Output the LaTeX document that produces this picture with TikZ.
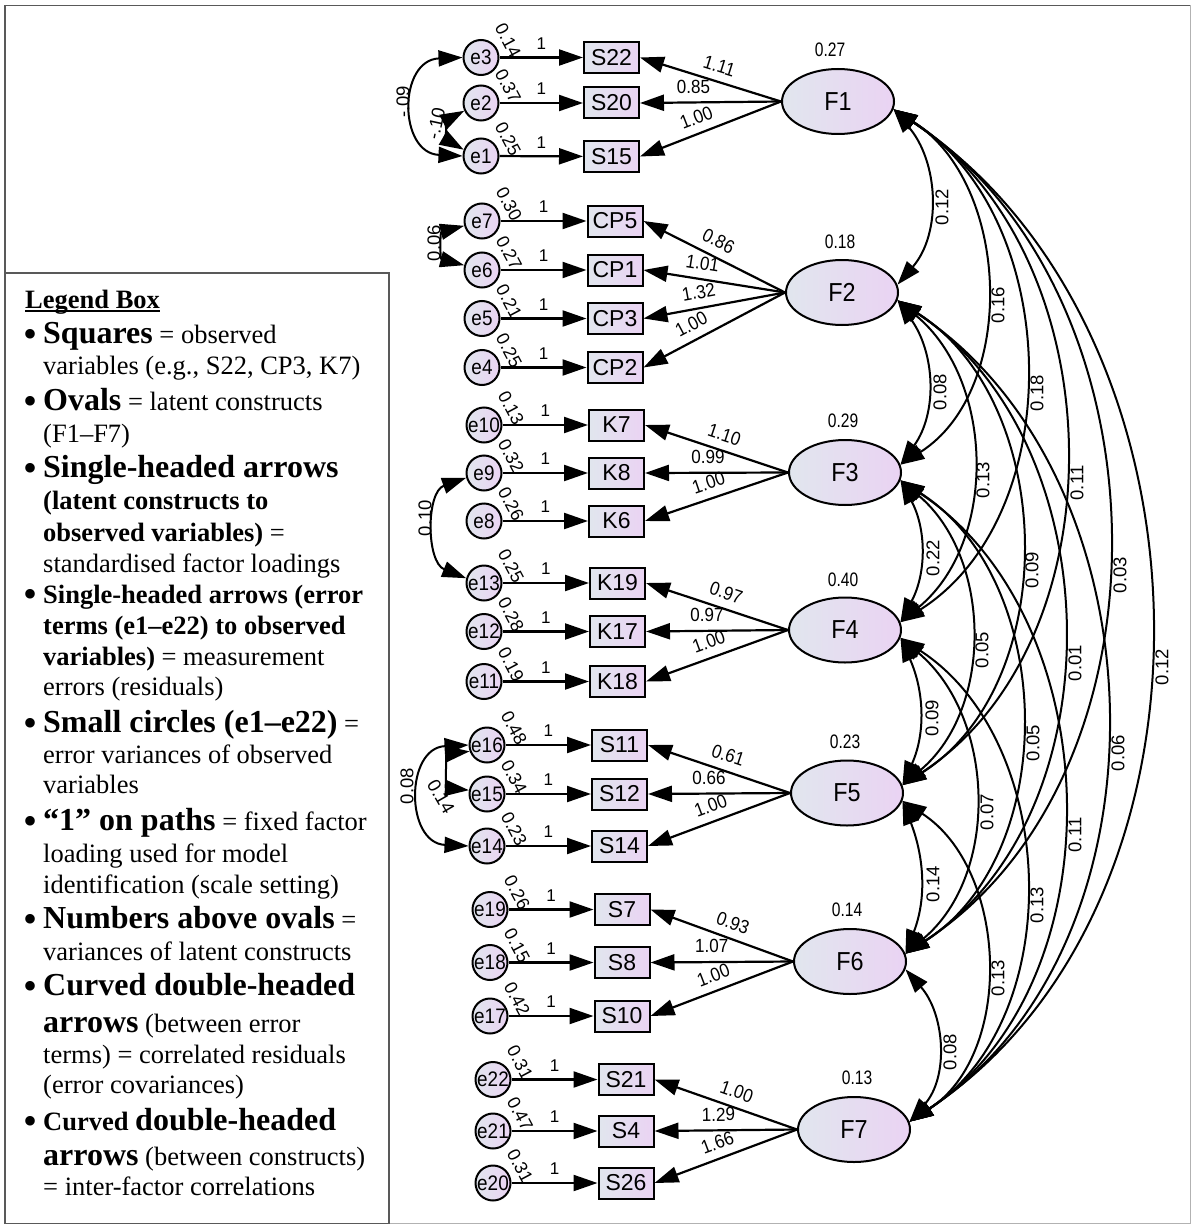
\documentclass[tikz,border=0pt]{standalone}
\usepackage{fontspec}
\setmainfont{Liberation Serif}
\newfontfamily\amos{Liberation Sans}
\newfontfamily\amosn[FakeStretch=0.8]{Liberation Sans}
\newfontfamily\amoss[FakeStretch=0.9]{Liberation Sans}
\usetikzlibrary{shapes.geometric,arrows.meta,calc}

\definecolor{fillL}{RGB}{225,230,238}
\definecolor{fillR}{RGB}{234,211,243}

\newcommand\zw[1]{\makebox[0pt]{#1}}
\newcommand\lgbig{\fontsize{32}{36}\selectfont\bfseries}
\newcommand\lgbul{\llap{\raisebox{-4.5pt}{\fontsize{40}{40}\selectfont\textbullet}\hspace{6pt}}}

\tikzset{
  >={Triangle[length=24pt,width=16pt]},
  latent/.style={ellipse, draw, line width=2pt, minimum width=112pt, minimum height=65pt,
    inner sep=0pt, left color=fillL, right color=fillR, font=\amoss\fontsize{26}{26}\selectfont},
  observed/.style={rectangle, draw, line width=2pt, minimum width=55pt, minimum height=31pt,
    inner sep=0pt, left color=fillL, right color=fillR, font=\amos\fontsize{23}{23}\selectfont},
  errterm/.style={ellipse, draw, line width=2pt, minimum width=35pt, minimum height=35pt,
    inner sep=0pt, left color=fillL, right color=fillR, font=\amoss\fontsize{21}{21}\selectfont},
  regress/.style={line width=2.2pt, ->},
  covar/.style={line width=2pt, <->},
  varlbl/.style={font=\amosn\fontsize{19.5}{19.5}\selectfont, inner sep=1pt},
  covlbl/.style={font=\amos\fontsize{18.5}{18.5}\selectfont, inner sep=1pt, rotate=90},
  one/.style={font=\amos\fontsize{17}{17}\selectfont, inner sep=1pt, above=6pt, pos=0.5},
  loadlbl/.style={font=\amoss\fontsize{19}{19}\selectfont, inner sep=1pt, sloped, above=7pt},
  evar/.style={font=\amos\fontsize{18}{18}\selectfont, inner sep=0pt, rotate=-62},
  lgline/.style={anchor=base west, inner sep=0pt, font=\fontsize{26.5}{30}\selectfont}
}

\begin{document}
\begin{tikzpicture}[x=1pt,y=-1pt]
\useasboundingbox (0,0) rectangle (1192,1225);
\fill[white] (0,0) rectangle (1192,1225);

% outer frame and legend frame
\draw[line width=1.2pt, draw=black!65] (5,1223.5) -- (5,5.5) -- (1190.5,5.5);
\draw[line width=1.2pt, draw=black!30] (1190.5,5.5) -- (1190.5,1223.5) -- (5,1223.5);
\draw[line width=1.2pt, draw=black!65] (5,273) rectangle (389,1223.5);

% latent constructs
\node[latent] (F1) at (838,101.5) {F1};
\node[latent] (F2) at (842,292.5) {F2};
\node[latent] (F3) at (845,472.5) {F3};
\node[latent] (F4) at (845,630) {F4};
\node[latent] (F5) at (847,793) {F5};
\node[latent] (F6) at (850,961.5) {F6};
\node[latent] (F7) at (854,1129.5) {F7};

% variances of latent constructs
\node[varlbl] (vF1) at (830,50) {0.27};
\node[varlbl] (vF2) at (840,242) {0.18};
\node[varlbl] (vF3) at (843,421) {0.29};
\node[varlbl] (vF4) at (843,580) {0.40};
\node[varlbl] (vF5) at (845,742) {0.23};
\node[varlbl] (vF6) at (847,910) {0.14};
\node[varlbl] (vF7) at (857,1078) {0.13};

% observed variables
\node[observed] (S22) at (611.5,57.5) {S22};
\node[observed] (S20) at (611.5,103) {S20};
\node[observed] (S15) at (611.5,156.5) {S15};
\node[observed] (CP5) at (615,221) {CP5};
\node[observed] (CP1) at (615,270) {CP1};
\node[observed] (CP3) at (615,318.5) {CP3};
\node[observed] (CP2) at (615,367.5) {CP2};
\node[observed] (K7) at (616.5,425) {K7};
\node[observed] (K8) at (616.5,473) {K8};
\node[observed] (K6) at (616.5,521) {K6};
\node[observed] (K19) at (617.5,583) {K19};
\node[observed] (K17) at (617.5,631.5) {K17};
\node[observed] (K18) at (617.5,681.5) {K18};
\node[observed] (S11) at (619.5,745) {S11};
\node[observed] (S12) at (619.5,794) {S12};
\node[observed] (S14) at (619.5,846) {S14};
\node[observed] (S7) at (622,909.5) {S7};
\node[observed] (S8) at (622,962.5) {S8};
\node[observed] (S10) at (622,1016) {S10};
\node[observed] (S21) at (626,1079.5) {S21};
\node[observed] (S4) at (626,1131) {S4};
\node[observed] (S26) at (626,1183) {S26};

% error terms
\node[errterm] (e3) at (481,57.5) {\zw{e3}};
\node[errterm] (e2) at (481,103) {\zw{e2}};
\node[errterm] (e1) at (481,156) {\zw{e1}};
\node[errterm] (e7) at (482,221) {\zw{e7}};
\node[errterm] (e6) at (482,270) {\zw{e6}};
\node[errterm] (e5) at (482,318.5) {\zw{e5}};
\node[errterm] (e4) at (482,367.5) {\zw{e4}};
\node[errterm] (e10) at (484,425) {\zw{e10}};
\node[errterm] (e9) at (484,473) {\zw{e9}};
\node[errterm] (e8) at (484,521) {\zw{e8}};
\node[errterm] (e13) at (484,583) {\zw{e13}};
\node[errterm] (e12) at (484,631.5) {\zw{e12}};
\node[errterm] (e11) at (484,681.5) {\zw{e11}};
\node[errterm] (e16) at (487,745) {\zw{e16}};
\node[errterm] (e15) at (487,794) {\zw{e15}};
\node[errterm] (e14) at (487,846) {\zw{e14}};
\node[errterm] (e19) at (490,909.5) {\zw{e19}};
\node[errterm] (e18) at (490,962.5) {\zw{e18}};
\node[errterm] (e17) at (490,1016) {\zw{e17}};
\node[errterm] (e22) at (493,1079.5) {\zw{e22}};
\node[errterm] (e21) at (493,1131) {\zw{e21}};
\node[errterm] (e20) at (493,1183) {\zw{e20}};

% error variances
\foreach \e/\v in {e3/0.14, e2/0.37, e1/0.25, e7/0.30, e6/0.27, e5/0.21, e4/0.25,
  e10/0.13, e9/0.32, e8/0.26, e13/0.25, e12/0.28, e11/0.19, e16/0.48, e15/0.34,
  e14/0.23, e19/0.26, e18/0.15, e17/0.42, e22/0.31, e21/0.47, e20/0.31}
  \node[evar] (v\e) at ($(\e)+(27,-17)$) {\v};

% error terms to observed variables
\foreach \e/\o in {e3/S22, e2/S20, e1/S15, e7/CP5, e6/CP1, e5/CP3, e4/CP2,
  e10/K7, e9/K8, e8/K6, e13/K19, e12/K17, e11/K18, e16/S11, e15/S12, e14/S14,
  e19/S7, e18/S8, e17/S10, e22/S21, e21/S4, e20/S26}
  \draw[regress] (\e) -- node[one] {1} (\o);

% factor loadings
\draw[regress] (F1.west) -- node[loadlbl,pos=.47] {1.11} (S22.east);
\draw[regress] (F1.west) -- node[loadlbl,pos=.62] {0.85} (S20.east);
\draw[regress] (F1.west) -- node[loadlbl,pos=.56] {1.00} (S15.east);
\draw[regress] (F2.west) -- node[loadlbl,pos=.52] {0.86} (CP5.east);
\draw[regress] (F2.west) -- node[loadlbl,pos=.60] {1.01} (CP1.east);
\draw[regress] (F2.west) -- node[loadlbl,pos=.59] {1.32} (CP3.east);
\draw[regress] (F2.west) -- node[loadlbl,pos=.61] {1.00} (CP2.east);
\draw[regress] (F3.west) -- node[loadlbl,pos=.48] {1.10} (K7.east);
\draw[regress] (F3.west) -- node[loadlbl,pos=.56] {0.99} (K8.east);
\draw[regress] (F3.west) -- node[loadlbl,pos=.52] {1.00} (K6.east);
\draw[regress] (F4.west) -- node[loadlbl,pos=.47] {0.97} (K19.east);
\draw[regress] (F4.west) -- node[loadlbl,pos=.57] {0.97} (K17.east);
\draw[regress] (F4.west) -- node[loadlbl,pos=.52] {1.00} (K18.east);
\draw[regress] (F5.west) -- node[loadlbl,pos=.47] {0.61} (S11.east);
\draw[regress] (F5.west) -- node[loadlbl,pos=.57] {0.66} (S12.east);
\draw[regress] (F5.west) -- node[loadlbl,pos=.52] {1.00} (S14.east);
\draw[regress] (F6.west) -- node[loadlbl,pos=.46] {0.93} (S7.east);
\draw[regress] (F6.west) -- node[loadlbl,pos=.57] {1.07} (S8.east);
\draw[regress] (F6.west) -- node[loadlbl,pos=.52] {1.00} (S10.east);
\draw[regress] (F7.west) -- node[loadlbl,pos=.46] {1.00} (S21.east);
\draw[regress] (F7.west) -- node[loadlbl,pos=.55] {1.29} (S4.east);
\draw[regress] (F7.west) -- node[loadlbl,pos=.52] {1.66} (S26.east);

% correlated residuals
\draw[covar] (e3.west) .. controls (398,60) and (398,153) .. (e1.west);
\draw[covar] (e2.205) .. controls (447,120) and (447,140) .. (e1.160);
\draw[covar] (e7.195) .. controls (440,232) and (440,259) .. (e6.165);
\draw[covar] (e9.195) .. controls (426,492) and (426,562) .. (e13.165);
\draw[covar] (e16.west) .. controls (405,748) and (405,843) .. (e14.west);
\draw[covar] (e16.200) .. controls (446,754) and (446,788) .. (e15.168);
\node[covlbl] (r31) at (403,102) {-.09};
\node[covlbl, rotate=-12] (r21) at (436,124) {-.10};
\node[covlbl] (r76) at (434,243) {0.06};
\node[covlbl] (r913) at (425,518) {0.10};
\node[covlbl] (r1614) at (407,786) {0.08};
\node[covlbl, rotate=-150] (r1615) at (441,797) {0.14};

% inter-factor covariances
\draw[covar] (F1.-8) .. controls +(44.8,52.1) and +(44.8,-52.1) .. (F2.8);
\draw[covar] (F1.-8) .. controls +(117.5,74.6) and +(117.5,-74.6) .. (F3.8);
\draw[covar] (F1.-8) .. controls +(169.5,107.7) and +(169.5,-107.7) .. (F4.8);
\draw[covar] (F1.-8) .. controls +(221.5,145) and +(221.5,-145) .. (F5.8);
\draw[covar] (F1.-8) .. controls +(276.8,181.2) and +(276.8,-181.2) .. (F6.8);
\draw[covar] (F1.-8) .. controls +(330.1,219.2) and +(330.1,-219.2) .. (F7.8);
\draw[covar] (F2.-8) .. controls +(37.5,52.5) and +(37.5,-52.5) .. (F3.8);
\draw[covar] (F2.-8) .. controls +(97.5,80.1) and +(97.5,-80.1) .. (F4.8);
\draw[covar] (F2.-8) .. controls +(160.1,102) and +(160.1,-102) .. (F5.8);
\draw[covar] (F2.-8) .. controls +(214.1,140.2) and +(214.1,-140.2) .. (F6.8);
\draw[covar] (F2.-8) .. controls +(268.8,176.6) and +(268.8,-176.6) .. (F7.8);
\draw[covar] (F3.-8) .. controls +(26.1,49.1) and +(26.1,-49.1) .. (F4.8);
\draw[covar] (F3.-8) .. controls +(91.5,76.8) and +(91.5,-76.8) .. (F5.8);
\draw[covar] (F3.-8) .. controls +(156.1,99.9) and +(156.1,-99.9) .. (F6.8);
\draw[covar] (F3.-8) .. controls +(209.5,138.7) and +(209.5,-138.7) .. (F7.8);
\draw[covar] (F4.-8) .. controls +(23.5,52.8) and +(23.5,-52.8) .. (F5.8);
\draw[covar] (F4.-8) .. controls +(94.8,79.6) and +(94.8,-79.6) .. (F6.8);
\draw[covar] (F4.-8) .. controls +(158.8,103.3) and +(158.8,-103.3) .. (F7.8);
\draw[covar] (F5.-8) .. controls +(21.5,56) and +(21.5,-56) .. (F6.8);
\draw[covar] (F5.-8) .. controls +(105.5,68.5) and +(105.5,-68.5) .. (F7.8);
\draw[covar] (F6.-8) .. controls +(39.5,45.1) and +(39.5,-45.1) .. (F7.8);

\node[covlbl] (c12) at (942,207) {0.12};
\node[covlbl] (c13) at (998,305) {0.16};
\node[covlbl] (c14) at (1037,393) {0.18};
\node[covlbl] (c15) at (1077,483) {0.11};
\node[covlbl] (c16) at (1120,575) {0.03};
\node[covlbl] (c17) at (1162,667) {0.12};
\node[covlbl] (c23) at (940,392) {0.08};
\node[covlbl] (c24) at (983,480) {0.13};
\node[covlbl] (c25) at (1032,570) {0.09};
\node[covlbl] (c26) at (1075,663) {0.01};
\node[covlbl] (c27) at (1118,753) {0.06};
\node[covlbl] (c34) at (933,558) {0.22};
\node[covlbl] (c35) at (982,650) {0.05};
\node[covlbl] (c36) at (1033,743) {0.05};
\node[covlbl] (c37) at (1075,835) {0.11};
\node[covlbl] (c45) at (932,718) {0.09};
\node[covlbl] (c46) at (987,812) {0.07};
\node[covlbl] (c47) at (1037,905) {0.13};
\node[covlbl] (c56) at (933,884) {0.14};
\node[covlbl] (c57) at (998,978) {0.13};
\node[covlbl] (c67) at (950,1052) {0.08};

% legend
\node[lgline] (lg1) at (25,308) {\bfseries\setbox0=\hbox{Legend Box}\rlap{\rule[-3.5pt]{\wd0}{1.3pt}}\box0};
\node[lgline] (lg2) at (43,343) {\lgbul{\lgbig Squares} = observed};
\node[lgline] (lg3) at (43,374) {variables (e.g., S22, CP3, K7)};
\node[lgline] (lg4) at (43,410) {\lgbul{\lgbig Ovals} = latent constructs};
\node[lgline] (lg5) at (43,442) {(F1–F7)};
\node[lgline] (lg6) at (43,477) {\lgbul{\lgbig Single-headed arrows}};
\node[lgline] (lg7) at (43,509) {\textbf{(latent constructs to}};
\node[lgline] (lg8) at (43,541) {\textbf{observed variables)} =};
\node[lgline] (lg9) at (43,572) {standardised factor loadings};
\node[lgline] (lg10) at (43,603) {\lgbul\textbf{Single-headed arrows (error}};
\node[lgline] (lg11) at (43,634) {\textbf{terms (e1–e22) to observed}};
\node[lgline] (lg12) at (43,665) {\textbf{variables)} = measurement};
\node[lgline] (lg13) at (43,695) {errors (residuals)};
\node[lgline] (lg14) at (43,732) {\lgbul{\lgbig Small circles (e1–e22)} =};
\node[lgline] (lg15) at (43,763) {error variances of observed};
\node[lgline] (lg16) at (43,793) {variables};
\node[lgline] (lg17) at (43,830) {\lgbul{\lgbig “1” on paths} = fixed factor};
\node[lgline] (lg18) at (43,862) {loading used for model};
\node[lgline] (lg19) at (43,893) {identification (scale setting)};
\node[lgline] (lg20) at (43,928) {\lgbul{\lgbig Numbers above ovals} =};
\node[lgline] (lg21) at (43,960) {variances of latent constructs};
\node[lgline] (lg22) at (43,995) {\lgbul{\lgbig Curved double-headed}};
\node[lgline] (lg23) at (43,1032) {{\lgbig arrows} (between error};
\node[lgline] (lg24) at (43,1063) {terms) = correlated residuals};
\node[lgline] (lg25) at (43,1093) {(error covariances)};
\node[lgline] (lg26) at (43,1130) {\lgbul\textbf{Curved} {\lgbig double-headed}};
\node[lgline] (lg27) at (43,1165) {{\lgbig arrows} (between constructs)};
\node[lgline] (lg28) at (43,1195) {= inter-factor correlations};
\end{tikzpicture}
\end{document}
